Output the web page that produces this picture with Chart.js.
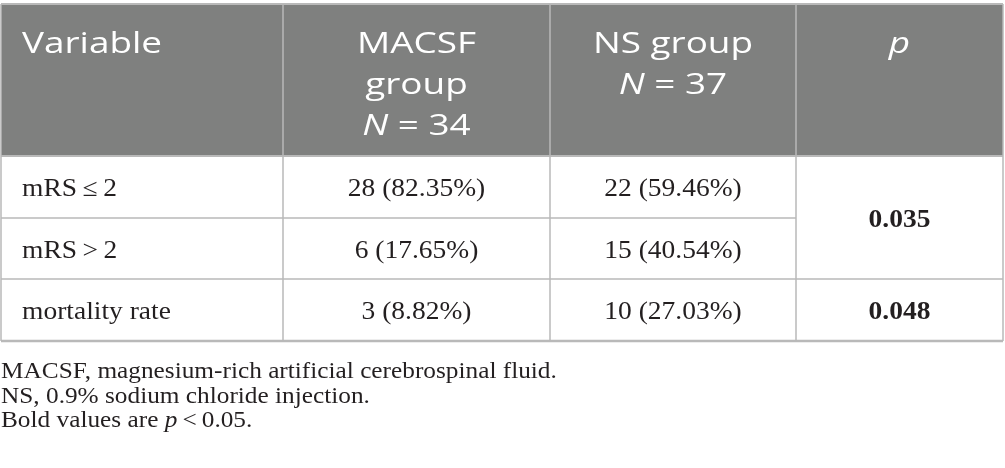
<!DOCTYPE html>
<html>
<head>
<meta charset="utf-8">
<script src="https://cdn.jsdelivr.net/npm/chart.js@4.4.1/dist/chart.umd.min.js"></script>
<style>
  html, body { margin: 0; padding: 0; background: #fff; }
  #wrap { width: 1005px; height: 468px; position: relative; }
</style>
</head>
<body>
<div id="wrap"><canvas id="tabela"></canvas></div>
<script>
// Dados da tabela
const headerCol1 = ["Variable"];
const groupNames = ["MACSF group", "NS group"];
const groupN = [34, 37];
const variables = ["mRS\u2009\u2264\u20092", "mRS\u2009>\u20092", "mortality rate"];
const macsfCount = [28, 6, 3];
const macsfPct = ["82.35", "17.65", "8.82"];
const nsCount = [22, 15, 10];
const nsPct = ["59.46", "40.54", "27.03"];
const pValues = ["0.035", "0.048"];
const pSpan = [2, 1];
const footnotes = [
  "MACSF, magnesium-rich artificial cerebrospinal fluid.",
  "NS, 0.9% sodium chloride injection."
];

// Layout (unidades da escala = pixels da janela)
const colEdges = [1, 283, 550, 796, 1003];
const rowEdges = [4, 156, 218, 279, 341];

const headFont = '"Open Sans", sans-serif';
const bodyFont = '"Liberation Serif", serif';
const HEAD_SX = 1.23;  // fonte do cabeçalho mais larga
const BODY_SX = 1.1;

// escreve partes com fontes diferentes, esticadas na horizontal
function textoMisto(ctx, partes, x, y, align, sx) {
  let total = 0;
  partes.forEach(p => {
    ctx.font = p.font;
    total += ctx.measureText(p.t).width * sx;
  });
  let cx = align === 'center' ? x - total / 2 : x;
  ctx.textAlign = 'left';
  partes.forEach(p => {
    ctx.font = p.font;
    ctx.save();
    ctx.translate(cx, y);
    ctx.scale(sx, 1);
    ctx.fillText(p.t, 0, 0);
    ctx.restore();
    cx += ctx.measureText(p.t).width * sx;
  });
}

const tabelaPlugin = {
  id: 'tabela',
  beforeDatasetsDraw(chart) {
    const ctx = chart.ctx;
    const xs = chart.scales.x, ys = chart.scales.y;
    const X = v => xs.getPixelForValue(v);
    const Y = v => ys.getPixelForValue(v);
    const cx = i => (X(colEdges[i]) + X(colEdges[i + 1])) / 2;

    ctx.save();
    // cabeçalho
    ctx.fillStyle = '#7f807f';
    ctx.fillRect(X(colEdges[0]), Y(rowEdges[0]), X(colEdges[4]) - X(colEdges[0]), Y(rowEdges[1]) - Y(rowEdges[0]));

    ctx.fillStyle = '#ffffff';
    ctx.textBaseline = 'alphabetic';
    const hSize = 30, lh = 41, base1 = Y(rowEdges[0]) + 49;
    const reg = '400 ' + hSize + 'px ' + headFont;
    const ita = 'italic 400 ' + hSize + 'px ' + headFont;
    textoMisto(ctx, [{ t: headerCol1[0], font: reg }], X(colEdges[0]) + 21, base1, 'left', HEAD_SX);

    // MACSF group quebra em duas linhas, NS group em uma
    const linhasGrupo = [groupNames[0].split(' '), [groupNames[1]]];
    linhasGrupo.forEach((linhas, g) => {
      const c = cx(g + 1);
      linhas.forEach((l, k) => {
        textoMisto(ctx, [{ t: l, font: reg }], c, base1 + k * lh, 'center', HEAD_SX);
      });
      textoMisto(ctx, [{ t: 'N', font: ita }, { t: ' = ' + groupN[g], font: reg }], c, base1 + linhas.length * lh, 'center', HEAD_SX);
    });
    textoMisto(ctx, [{ t: 'p', font: ita }], cx(3), base1, 'center', HEAD_SX);

    // corpo
    const bSize = 25;
    ctx.fillStyle = '#231f20';
    const bReg = bSize + 'px ' + bodyFont;
    const bBold = 'bold ' + bSize + 'px ' + bodyFont;
    variables.forEach((v, r) => {
      const midY = (Y(rowEdges[r + 1]) + Y(rowEdges[r + 2])) / 2 + 9;
      textoMisto(ctx, [{ t: v, font: bReg }], X(colEdges[0]) + 21, midY, 'left', BODY_SX);
      textoMisto(ctx, [{ t: macsfCount[r] + ' (' + macsfPct[r] + '%)', font: bReg }], cx(1), midY, 'center', BODY_SX);
      textoMisto(ctx, [{ t: nsCount[r] + ' (' + nsPct[r] + '%)', font: bReg }], cx(2), midY, 'center', BODY_SX);
    });
    let r0 = 0;
    pValues.forEach((p, i) => {
      const top = Y(rowEdges[r0 + 1]), bot = Y(rowEdges[r0 + 1 + pSpan[i]]);
      textoMisto(ctx, [{ t: p, font: bBold }], cx(3), (top + bot) / 2 + 9, 'center', BODY_SX);
      r0 += pSpan[i];
    });

    // linhas
    ctx.strokeStyle = '#b9b9b9';
    const hline = (y, x0, x1, w) => {
      ctx.lineWidth = w || 1.5;
      ctx.beginPath(); ctx.moveTo(x0, y); ctx.lineTo(x1, y); ctx.stroke();
    };
    const vline = (x, y0, y1) => {
      ctx.lineWidth = 1.5;
      ctx.beginPath(); ctx.moveTo(x, y0); ctx.lineTo(x, y1); ctx.stroke();
    };
    hline(Y(rowEdges[0]), X(colEdges[0]), X(colEdges[4]), 2);
    hline(Y(rowEdges[1]), X(colEdges[0]), X(colEdges[4]), 2);
    hline(Y(rowEdges[2]), X(colEdges[0]), X(colEdges[3]));
    hline(Y(rowEdges[3]), X(colEdges[0]), X(colEdges[4]));
    hline(Y(rowEdges[4]), X(colEdges[0]), X(colEdges[4]), 2.5);
    colEdges.forEach(c => vline(X(c), Y(rowEdges[0]), Y(rowEdges[4])));

    // notas
    const fSize = 23;
    ctx.fillStyle = '#231f20';
    const fReg = fSize + 'px ' + bodyFont;
    const fIta = 'italic ' + fSize + 'px ' + bodyFont;
    const fBase = Y(rowEdges[4]) + 37, fLh = 24.5;
    footnotes.forEach((f, i) => {
      textoMisto(ctx, [{ t: f, font: fReg }], X(0) + 1, fBase + i * fLh, 'left', BODY_SX);
    });
    textoMisto(ctx, [{ t: 'Bold values are ', font: fReg }, { t: 'p', font: fIta }, { t: '\u2009<\u20090.05.', font: fReg }],
      X(0) + 1, fBase + 2 * fLh, 'left', BODY_SX);
    ctx.restore();
  }
};

new Chart(document.getElementById('tabela'), {
  type: 'scatter',
  data: { datasets: [] },
  options: {
    responsive: true,
    maintainAspectRatio: false,
    animation: false,
    layout: { padding: 0 },
    plugins: { legend: { display: false }, tooltip: { enabled: false } },
    scales: {
      x: { type: 'linear', min: 0, max: 1005, display: false },
      y: { type: 'linear', min: 0, max: 468, reverse: true, display: false }
    }
  },
  plugins: [tabelaPlugin]
});
</script>
</body>
</html>
